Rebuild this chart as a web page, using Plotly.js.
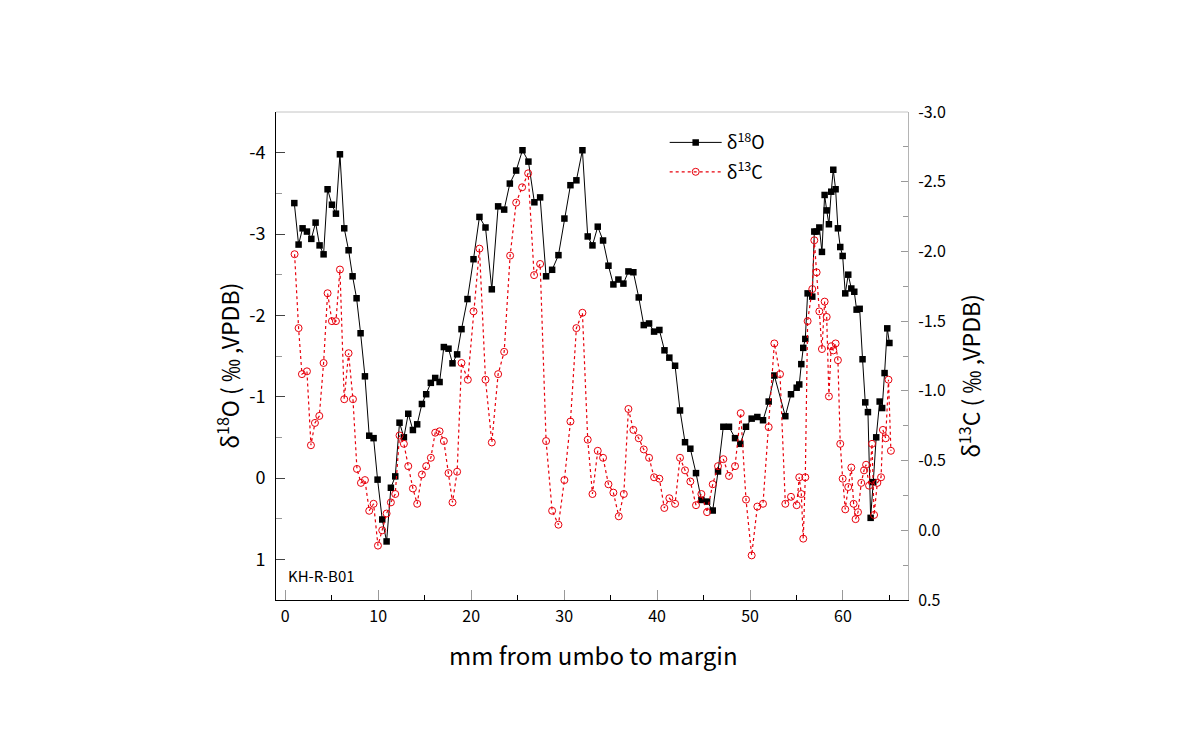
<!DOCTYPE html>
<html>
<head>
<meta charset="utf-8">
<script src="https://cdn.plot.ly/plotly-3.0.1.min.js"></script>
<style>html,body{margin:0;padding:0;background:#fff;}#chart{width:1190px;height:742px;}</style>
</head>
<body>
<div id="chart"></div>
<script>
// δ18O series (mm from umbo, ‰ VPDB)
const xO = [0.97,1.43,1.86,2.33,2.80,3.26,3.69,4.12,4.55,5.02,5.45,5.88,6.34,6.81,7.24,7.67,8.10,8.57,9.03,9.50,9.93,10.43,10.90,11.36,11.83,12.29,12.76,13.23,13.73,14.19,14.70,15.16,15.66,16.13,16.60,17.06,17.56,17.99,18.49,18.96,19.60,20.25,20.89,21.54,22.22,22.90,23.55,24.16,24.84,25.52,26.16,26.80,27.42,28.06,28.71,29.39,30.03,30.68,31.32,31.97,32.54,33.05,33.62,34.19,34.77,35.30,35.84,36.38,36.92,37.45,38.03,38.57,39.14,39.68,40.25,40.80,41.32,41.94,42.47,43.01,43.58,44.19,44.77,45.38,45.99,46.56,47.13,47.74,48.39,48.96,49.57,50.18,50.79,51.40,52.01,52.62,53.80,54.41,55.02,55.30,55.52,55.73,55.95,56.20,56.70,56.92,57.17,57.46,57.74,58.03,58.25,58.49,58.74,58.96,59.21,59.46,59.71,59.97,60.25,60.57,60.90,61.22,61.47,61.80,62.11,62.40,62.69,62.98,63.26,63.58,63.95,64.22,64.48,64.77,65.00];
const d18O = [-3.38,-2.87,-3.07,-3.03,-2.94,-3.14,-2.86,-2.75,-3.55,-3.36,-3.25,-3.98,-3.07,-2.80,-2.48,-2.21,-1.78,-1.25,-0.52,-0.49,0.02,0.51,0.78,0.12,-0.02,-0.68,-0.50,-0.79,-0.59,-0.66,-0.91,-1.03,-1.17,-1.23,-1.18,-1.61,-1.59,-1.41,-1.52,-1.83,-2.20,-2.69,-3.21,-3.08,-2.32,-3.34,-3.30,-3.62,-3.78,-4.03,-3.89,-3.39,-3.45,-2.48,-2.56,-2.74,-3.19,-3.60,-3.66,-4.03,-2.97,-2.86,-3.09,-2.92,-2.61,-2.38,-2.44,-2.39,-2.54,-2.53,-2.22,-1.88,-1.90,-1.80,-1.82,-1.57,-1.48,-1.38,-0.83,-0.44,-0.36,-0.06,0.27,0.29,0.40,-0.08,-0.63,-0.63,-0.49,-0.42,-0.63,-0.73,-0.75,-0.71,-0.94,-1.26,-0.76,-1.03,-1.11,-1.15,-1.40,-1.60,-1.71,-2.27,-2.23,-3.03,-3.03,-3.08,-2.78,-3.48,-3.29,-3.12,-3.52,-3.79,-3.55,-3.07,-2.84,-2.73,-2.27,-2.50,-2.33,-2.29,-2.07,-2.08,-1.46,-0.93,-0.81,0.49,0.05,-0.50,-0.94,-0.86,-1.29,-1.84,-1.66];

// δ13C series
const xC = [1.00,1.43,1.79,2.33,2.76,3.19,3.66,4.12,4.55,5.02,5.45,5.88,6.34,6.81,7.28,7.71,8.14,8.57,9.03,9.50,9.97,10.43,10.90,11.36,11.83,12.29,12.76,13.23,13.73,14.19,14.70,15.16,15.66,16.13,16.60,17.06,17.56,17.99,18.49,18.96,19.64,20.25,20.89,21.54,22.22,22.90,23.55,24.19,24.84,25.48,26.13,26.77,27.42,28.06,28.71,29.39,30.03,30.68,31.32,31.97,32.54,33.05,33.62,34.19,34.77,35.30,35.88,36.42,36.92,37.45,38.03,38.57,39.14,39.68,40.25,40.78,41.32,41.94,42.47,43.01,43.58,44.19,44.77,45.38,45.99,46.56,47.13,47.74,48.39,49.00,49.57,50.18,50.79,51.40,52.01,52.62,53.23,53.80,54.41,55.02,55.30,55.52,55.73,55.95,56.20,56.70,56.92,57.17,57.46,57.74,58.03,58.25,58.49,58.74,58.96,59.21,59.46,59.71,59.97,60.25,60.57,60.90,61.15,61.36,61.62,61.97,62.27,62.49,62.81,63.13,63.35,63.70,64.10,64.30,64.60,64.90,65.16];
const d13C = [-1.98,-1.45,-1.12,-1.14,-0.61,-0.77,-0.82,-1.20,-1.70,-1.50,-1.50,-1.87,-0.94,-1.27,-0.94,-0.44,-0.34,-0.36,-0.14,-0.19,0.11,0.00,-0.12,-0.20,-0.26,-0.68,-0.62,-0.46,-0.30,-0.19,-0.40,-0.46,-0.52,-0.70,-0.71,-0.64,-0.41,-0.20,-0.42,-1.20,-1.08,-1.57,-2.02,-1.08,-0.63,-1.12,-1.28,-1.97,-2.35,-2.46,-2.56,-1.83,-1.91,-0.64,-0.14,-0.04,-0.36,-0.78,-1.45,-1.56,-0.65,-0.26,-0.57,-0.52,-0.33,-0.27,-0.10,-0.26,-0.87,-0.72,-0.66,-0.58,-0.52,-0.38,-0.37,-0.16,-0.23,-0.19,-0.52,-0.43,-0.35,-0.18,-0.26,-0.13,-0.33,-0.46,-0.51,-0.39,-0.46,-0.84,-0.22,0.18,-0.17,-0.19,-0.74,-1.34,-1.12,-0.19,-0.24,-0.18,-0.38,-0.26,0.06,-0.38,-1.50,-1.73,-2.08,-1.85,-1.57,-1.30,-1.64,-1.53,-0.96,-1.32,-1.29,-1.34,-1.22,-0.62,-0.37,-0.15,-0.31,-0.45,-0.19,-0.08,-0.13,-0.34,-0.43,-0.47,-0.32,-0.62,-0.11,-0.34,-0.38,-0.72,-0.66,-1.08,-0.57,-0.44];

// tick labels
const oTicks = [-4,-3,-2,-1,0,1];
const oTickText = ["-4","-3","-2","-1","0","1"];
const cTicks = [-3.0,-2.5,-2.0,-1.5,-1.0,-0.5,0.0,0.5];
const cTickText = ["-3.0","-2.5","-2.0","-1.5","-1.0","-0.5","0.0","0.5"];
const xTicks = [0,10,20,30,40,50,60];
const xTickText = ["0","10","20","30","40","50","60"];

const FONT = "'Noto Sans CJK KR', 'Noto Sans', 'DejaVu Sans', sans-serif";

const traces = [
  {
    x: xO, y: d18O, name: 'δ<sup>18</sup>O', type: 'scatter', mode: 'lines+markers',
    legendgroup: 'o',
    line: {color: '#000000', width: 1},
    marker: {symbol: 'square', size: 6.5, color: '#000000'},
    yaxis: 'y'
  },
  {
    x: xC, y: d13C, name: 'δ<sup>13</sup>C', type: 'scatter', mode: 'lines+markers',
    legendgroup: 'c',
    line: {color: '#e8000b', width: 1.2, dash: 'dot'},
    marker: {symbol: 'circle-open', size: 7, color: '#e8000b', line: {width: 1}},
    yaxis: 'y2'
  }
];

const layout = {
  width: 1190, height: 742,
  margin: {l: 276, r: 282, t: 112, b: 142},
  paper_bgcolor: '#ffffff', plot_bgcolor: '#ffffff',
  font: {family: FONT, color: '#000000'},
  showlegend: true,
  legend: {x: 0.615, y: 0.975, xanchor: 'left', yanchor: 'top', bgcolor: 'rgba(0,0,0,0)',
           font: {size: 18, family: FONT}, itemwidth: 52, traceorder: 'grouped', tracegroupgap: 3},
  xaxis: {
    range: [-1, 67], tickmode: 'array', tickvals: xTicks, ticktext: xTickText,
    ticks: 'inside', ticklen: 10, tickcolor: '#999999', tickwidth: 1,
    minor: {dtick: 5, tick0: 0, ticks: 'inside', ticklen: 5, tickcolor: '#000000'},
    showline: true, linecolor: '#000000', linewidth: 1, mirror: false,
    showgrid: false, zeroline: false, tickfont: {size: 16, family: FONT},
    ticklabelstandoff: 2
  },
  yaxis: {
    range: [1.5, -4.5], tickmode: 'array', tickvals: oTicks, ticktext: oTickText,
    ticks: 'inside', ticklen: 9, tickcolor: '#444444', tickwidth: 1,
    minor: {dtick: 0.5, tick0: 0, ticks: 'inside', ticklen: 6, tickcolor: '#999999'},
    showline: true, linecolor: '#000000', linewidth: 1,
    showgrid: false, zeroline: false, tickfont: {size: 18, family: FONT},
    ticklabelstandoff: 6
  },
  yaxis2: {
    overlaying: 'y', side: 'right', anchor: 'x',
    range: [0.5, -3.0], tickmode: 'array', tickvals: cTicks, ticktext: cTickText,
    ticks: 'inside', ticklen: 7, tickcolor: '#999999', tickwidth: 1,
    minor: {dtick: 0.25, tick0: 0, ticks: 'inside', ticklen: 5, tickcolor: '#999999'},
    showline: true, linecolor: '#b4b4b4', linewidth: 1,
    showgrid: false, zeroline: false, tickfont: {size: 16, family: FONT},
    ticklabelstandoff: 6
  },
  shapes: [
    {type: 'line', xref: 'paper', yref: 'paper', x0: 0, x1: 1, y0: 1, y1: 1,
     line: {color: '#c4c4c4', width: 1}}
  ],
  annotations: [
    {text: 'δ<sup>18</sup>O ( ‰ ,VPDB)', xref: 'paper', yref: 'paper', x: -0.076, y: 0.48,
     xanchor: 'center', yanchor: 'middle', textangle: -90, showarrow: false,
     font: {size: 23, family: FONT}},
    {text: 'δ<sup>13</sup>C ( ‰ ,VPDB)', xref: 'paper', yref: 'paper', x: 1.097, y: 0.46,
     xanchor: 'center', yanchor: 'middle', textangle: -90, showarrow: false,
     font: {size: 23, family: FONT}},
    {text: 'mm from umbo to margin', xref: 'paper', yref: 'paper', x: 0.502, y: -0.112,
     xanchor: 'center', yanchor: 'middle', showarrow: false,
     font: {size: 24, family: FONT}},
    {text: 'KH-R-B01', xref: 'paper', yref: 'paper', x: 0.016, y: 0.05,
     xanchor: 'left', yanchor: 'middle', showarrow: false,
     font: {size: 15, family: FONT}}
  ]
};

Plotly.newPlot('chart', traces, layout, {staticPlot: true, displayModeBar: false});
</script>
</body>
</html>
